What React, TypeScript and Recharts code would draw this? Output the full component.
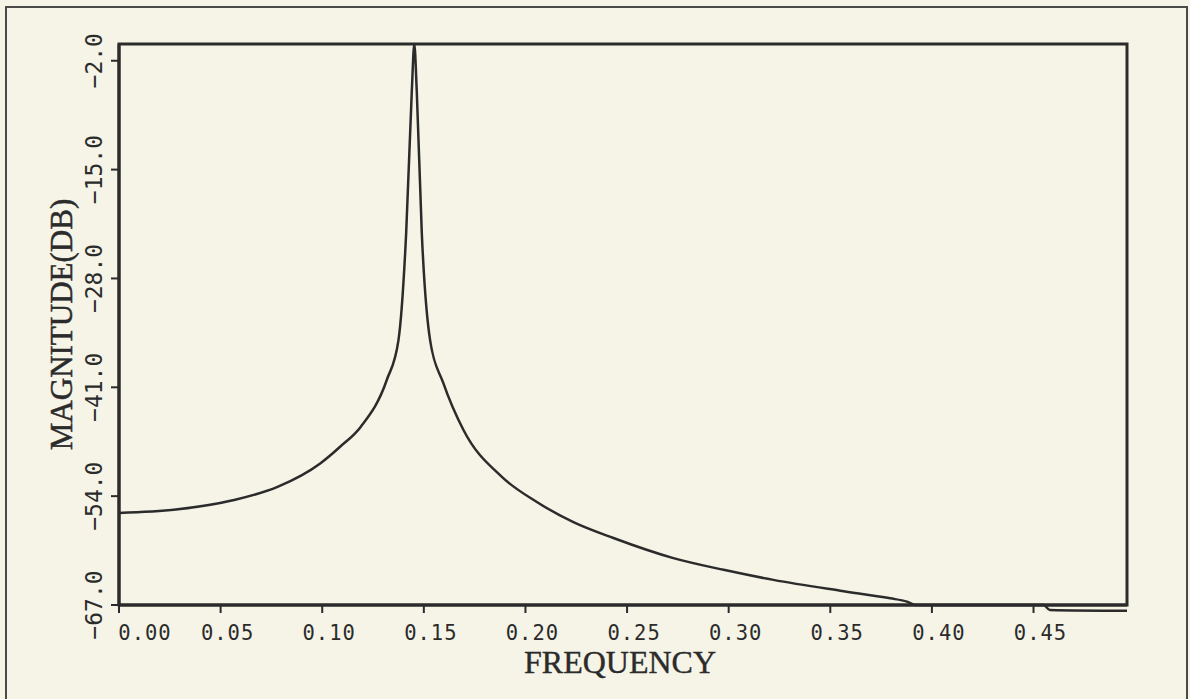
import { LineChart, Line, XAxis, YAxis, ReferenceArea } from "recharts";

// Magnitude response of the resonator, in dB against normalised frequency
const frequency = [
  0.0, 0.028, 0.056, 0.078, 0.099, 0.1088, 0.119, 0.1318, 0.1375, 0.1413,
  0.1441, 0.1453, 0.1465, 0.149, 0.1531, 0.1596, 0.1695, 0.1884, 0.2056,
  0.2236, 0.2433, 0.2728, 0.2975, 0.322, 0.3549, 0.3795, 0.3877, 0.392, 0.42,
  0.455, 0.458, 0.496,
];
const magnitudeDb = [
  -56.0, -55.6, -54.5, -52.9, -50.1, -48.1, -45.7, -40.1, -35.4, -22.6, -5.5,
  0.0, -5.5, -22.6, -35.4, -40.5, -46.1, -51.7, -54.7, -57.1, -59.0, -61.4,
  -62.8, -64.0, -65.3, -66.2, -66.6, -67.0, -67.0, -67.0, -67.6, -67.7,
];

const freqTicks = [0, 0.05, 0.1, 0.15, 0.2, 0.25, 0.3, 0.35, 0.4, 0.45];
const dbTicks = [-67, -54, -41, -28, -15, -2];
const freqRange = [0, 0.496];
const dbRange = [-67, 0];

const data = frequency.map((f, i) => ({ f, db: magnitudeDb[i] }));

const INK = "#2b2b2b";
const PAPER = "#f5f4e7";
const TICK_FONT = "DejaVu Sans Mono";
const TITLE_FONT = "Liberation Serif";

// the decimal point sits under the tick; the first label is pushed clear of the axis
function FreqTick({ x, y, payload }: any) {
  const shift = payload.value === 0 ? 26 : 7;
  return (
    <text
      x={x + shift}
      y={y}
      dy={15}
      textAnchor="middle"
      fontFamily={TICK_FONT}
      fontSize={20.5}
      letterSpacing={1}
      fill={INK}
    >
      {payload.value.toFixed(2)}
    </text>
  );
}

function DbTick({ x, y, payload }: any) {
  const label = payload.value.toFixed(1).replace("-", "\u2212");
  return (
    <g transform={`translate(${x},${y}) rotate(-90)`}>
      <text
        textAnchor="middle"
        fontFamily={TICK_FONT}
        fontSize={23}
        fill={INK}
      >
        {label}
      </text>
    </g>
  );
}

function FreqTitle({ viewBox }: any) {
  const { x, y, width } = viewBox;
  return (
    <text
      x={x + width / 2 - 3}
      y={y + 68}
      textAnchor="middle"
      fontFamily={TITLE_FONT}
      fontSize={32}
      fill={INK}
      stroke={INK}
      strokeWidth={0.4}
    >
      FREQUENCY
    </text>
  );
}

function DbTitle({ viewBox }: any) {
  const { x, y, height } = viewBox;
  return (
    <g transform={`translate(${x + 72},${y + height / 2}) rotate(-90)`}>
      <text
        textAnchor="middle"
        fontFamily={TITLE_FONT}
        fontSize={31}
        fill={INK}
        stroke={INK}
        strokeWidth={0.5}
      >
        MAGNITUDE(DB)
      </text>
    </g>
  );
}

export default function App() {
  return (
    <div
      style={{
        position: "fixed",
        inset: 0,
        background: PAPER,
        overflow: "hidden",
      }}
    >
      {/* the tail dips just under the bottom of the frame, so let it show */}
      <style>{"[clip-path]{clip-path:none !important}"}</style>
      <div
        style={{
          position: "absolute",
          left: 5,
          top: 6,
          width: 1179,
          height: 720,
          border: "2px solid #4a4a48",
        }}
      />
      <div style={{ position: "absolute", left: 0, top: 0 }}>
        <LineChart
          width={1190}
          height={699}
          data={data}
          margin={{ top: 44, right: 63, bottom: 0, left: 0 }}
        >
          <XAxis
            dataKey="f"
            type="number"
            domain={freqRange}
            ticks={freqTicks}
            height={94}
            axisLine={{ stroke: INK, strokeWidth: 3 }}
            tickLine={{ stroke: INK, strokeWidth: 2 }}
            tickSize={8}
            tickMargin={12}
            tick={<FreqTick />}
            label={{ content: <FreqTitle /> }}
          />
          <YAxis
            type="number"
            domain={dbRange}
            allowDataOverflow
            ticks={dbTicks}
            width={119}
            axisLine={{ stroke: INK, strokeWidth: 3 }}
            tickLine={{ stroke: INK, strokeWidth: 2 }}
            tickSize={8}
            tickMargin={9}
            tick={<DbTick />}
            label={{ content: <DbTitle /> }}
          />
          {/* plot frame */}
          <ReferenceArea
            x1={freqRange[0]}
            x2={freqRange[1]}
            y1={dbRange[0]}
            y2={dbRange[1]}
            fill="none"
            stroke={INK}
            strokeWidth={3}
            fillOpacity={0}
          />
          <Line
            dataKey="db"
            type="monotone"
            stroke={INK}
            strokeWidth={2.5}
            dot={false}
            isAnimationActive={false}
          />
        </LineChart>
      </div>
    </div>
  );
}
